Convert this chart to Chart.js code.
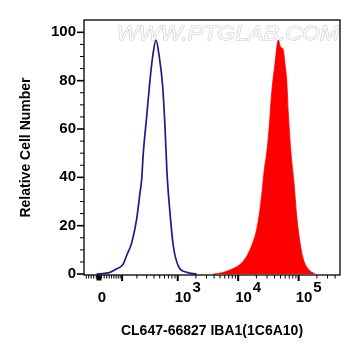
<!DOCTYPE html>
<html>
<head>
<meta charset="utf-8">
<script src="https://cdn.jsdelivr.net/npm/chart.js@4.4.1/dist/chart.umd.min.js"></script>
<style>
html,body{margin:0;padding:0;background:#fff;}
#wrap{width:361px;height:356px;position:relative;}
</style>
</head>
<body>
<div id="wrap"><canvas id="c"></canvas></div>
<script>
// Fluorescence intensity (x) and relative cell number (y)
const controlX = [-9, 23, 43, 69, 106, 128, 160, 198, 228, 244, 261, 299, 341, 380, 432, 491, 561, 613, 662, 743, 843, 1021, 1408, 2060];
const controlY = [0, 0.3, 0.7, 2, 4.1, 8, 13, 22.7, 33.6, 39, 50, 65, 80, 90, 96.8, 90, 77.6, 61, 42, 25.4, 11.7, 3.4, 0.7, 0];
const stainedX = [3880, 5400, 7810, 10040, 12960, 16720, 20230, 22950, 25030, 27000, 29600, 32300, 35800, 40600, 46030, 50050, 55670, 59400, 63400, 67400, 74700, 83700, 92800, 105200, 119200, 144200, 186100];
const stainedY = [0, 0.5, 2, 3.4, 6.2, 11.7, 18.5, 26.8, 35, 43, 50, 59.7, 75, 87, 96.8, 94, 92.7, 87, 80.3, 66.6, 50, 37.8, 24, 13, 6.2, 2, 0];

const yTickLabels = [0, 20, 40, 60, 80, 100];
const xMajorTicks = [1e3, 1e4, 1e5];
const xMajorExp = ['3', '4', '5'];
const xZeroLabel = '0';
const xMinorTicks = [-50, -40, -30, -20, -10, 10, 20, 30, 40, 50, 60, 70, 80, 90,
  200, 300, 400, 500, 600, 700, 800, 900,
  2000, 3000, 4000, 5000, 6000, 7000, 8000, 9000,
  20000, 30000, 40000, 50000, 60000, 70000, 80000, 90000,
  200000, 300000, 400000];
const xMidTicks = [100];
const xTitle = 'CL647-66827 IBA1(1C6A10)';
const yTitle = 'Relative Cell Number';
const watermark = 'WWW.PTGLAB.COM';

const X_MIN = -60, X_MAX = 482000;
const Y_MIN = -0.4, Y_MAX = 105.1;

// biexponential-like display transform
const T = v => Math.asinh(v / 100);

const toPts = (xs, ys) => xs.map((x, i) => ({x: T(x), y: ys[i]}));

const FONT = "'Liberation Sans', Arial, sans-serif";

const decor = {
  id: 'decor',
  beforeDatasetsDraw(chart) {
    const ctx = chart.ctx;
    ctx.save();
    ctx.font = "italic 21px " + FONT;
    ctx.textAlign = 'center';
    ctx.textBaseline = 'middle';
    ctx.translate(228, 34);
    ctx.scale(1.1, 1);
    ctx.lineWidth = 1;
    ctx.strokeStyle = '#c9c9c9';
    ctx.strokeText(watermark, 0, 0);
    ctx.fillStyle = '#fafafa';
    ctx.fillText(watermark, 0, 0);
    ctx.restore();
  },
  afterDraw(chart) {
    const ctx = chart.ctx, a = chart.chartArea;
    const xs = chart.scales.x, ys = chart.scales.y;
    ctx.save();
    ctx.strokeStyle = '#000';
    ctx.fillStyle = '#000';
    ctx.lineWidth = 1.3;
    ctx.strokeRect(a.left, a.top, a.right - a.left, a.bottom - a.top);
    for (let v = 0; v <= 100; v += 5) {
      const py = ys.getPixelForValue(v);
      const major = v % 20 === 0;
      ctx.lineWidth = major ? 1.6 : 1;
      ctx.beginPath();
      ctx.moveTo(a.left - (major ? 7 : 4), py);
      ctx.lineTo(a.left, py);
      ctx.stroke();
    }
    const b = a.bottom;
    xMinorTicks.forEach(v => {
      const px = xs.getPixelForValue(T(v));
      ctx.lineWidth = 1;
      ctx.beginPath(); ctx.moveTo(px, b); ctx.lineTo(px, b + 3.5); ctx.stroke();
    });
    xMidTicks.concat(xMajorTicks).forEach(v => {
      const px = xs.getPixelForValue(T(v));
      ctx.lineWidth = 2;
      ctx.beginPath(); ctx.moveTo(px, b); ctx.lineTo(px, b + 6); ctx.stroke();
    });
    const p0 = xs.getPixelForValue(T(0));
    ctx.fillRect(p0 - 2.5, b + 0.5, 5, 5);
    ctx.font = "bold 15px " + FONT;
    ctx.textBaseline = 'middle';
    ctx.textAlign = 'center';
    ctx.fillText(xZeroLabel, p0 + 3, 298);
    ctx.textAlign = 'left';
    xMajorTicks.forEach((v, i) => {
      const px = xs.getPixelForValue(T(v));
      ctx.font = "bold 15px " + FONT;
      const w = ctx.measureText('10').width;
      ctx.fillText('10', px - 3, 298);
      ctx.fillText(xMajorExp[i], px - 3 + w + 1, 288);
    });
    ctx.restore();
  }
};

new Chart(document.getElementById('c'), {
  type: 'line',
  data: {
    datasets: [
      {
        label: 'IBA1',
        data: toPts(stainedX, stainedY),
        borderColor: '#ff0000',
        backgroundColor: '#ff0000',
        borderWidth: 0.8,
        fill: 'origin',
        pointRadius: 0,
        cubicInterpolationMode: 'monotone'
      },
      {
        label: 'Control',
        data: toPts(controlX, controlY),
        borderColor: '#1b1b8c',
        borderWidth: 1.7,
        fill: false,
        pointRadius: 0,
        cubicInterpolationMode: 'monotone'
      }
    ]
  },
  options: {
    responsive: true,
    maintainAspectRatio: false,
    animation: false,
    layout: {padding: {left: 0, right: 21, top: 20, bottom: 0}},
    plugins: {legend: {display: false}, tooltip: {enabled: false}},
    scales: {
      x: {
        type: 'linear',
        min: T(X_MIN), max: T(X_MAX),
        grid: {display: false},
        border: {display: false},
        ticks: {display: false},
        title: {display: true, text: xTitle, color: '#000',
          font: {family: FONT, size: 14, weight: 'bold'}, padding: {top: 0, bottom: 16}},
        afterFit(s) { s.height = 81; }
      },
      y: {
        min: Y_MIN, max: Y_MAX,
        grid: {display: false, drawTicks: false, tickLength: 0},
        border: {display: false},
        afterBuildTicks(s) { s.ticks = yTickLabels.map(v => ({value: v})); },
        ticks: {color: '#000', padding: 8, font: {family: FONT, size: 15, weight: 'bold'}},
        title: {display: true, text: yTitle, color: '#000',
          font: {family: FONT, size: 14, weight: 'bold'}, padding: {top: 18, bottom: 0}},
        afterFit(s) { s.width = 84; }
      }
    }
  },
  plugins: [decor]
});
</script>
</body>
</html>
